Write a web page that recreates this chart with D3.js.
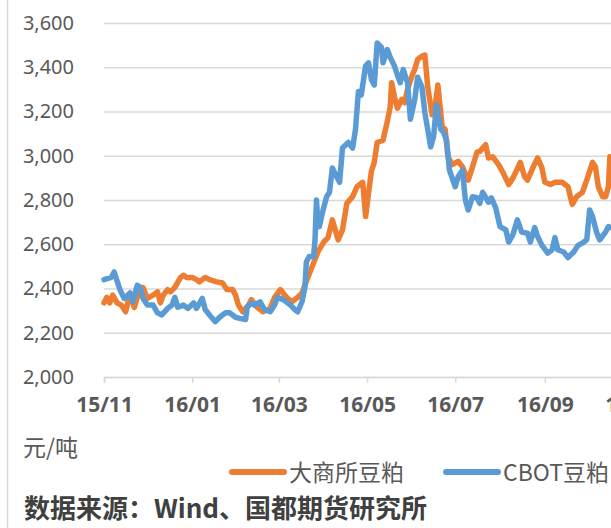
<!DOCTYPE html>
<html>
<head>
<meta charset="utf-8">
<script src="https://cdn.jsdelivr.net/npm/d3@7/dist/d3.min.js"></script>
<style>
  html, body { margin: 0; padding: 0; background: #fff; }
  svg { display: block; }
</style>
</head>
<body>
<svg id="chart" width="611" height="528"></svg>
<script>
// ---- data ----
const seriesNames = ["大商所豆粕", "CBOT豆粕"];
const seriesColors = ["#ED7D31", "#5B9BD5"];
const yTicks = [2000, 2200, 2400, 2600, 2800, 3000, 3200, 3400, 3600];
const unitLabel = "元/吨";
const sourceLabel = "数据来源：Wind、国都期货研究所";

const cnDates = ["2015-11-01","2015-11-03","2015-11-05","2015-11-07","2015-11-10","2015-11-13","2015-11-16","2015-11-18","2015-11-20","2015-11-22","2015-11-26","2015-11-28","2015-12-01","2015-12-05","2015-12-08","2015-12-10","2015-12-12","2015-12-15","2015-12-17","2015-12-20","2015-12-24","2015-12-26","2015-12-28","2016-01-01","2016-01-04","2016-01-06","2016-01-10","2016-01-13","2016-01-18","2016-01-22","2016-01-25","2016-01-29","2016-01-31","2016-02-02","2016-02-05","2016-02-09","2016-02-11","2016-02-15","2016-02-19","2016-02-24","2016-02-27","2016-03-02","2016-03-07","2016-03-10","2016-03-14","2016-03-17","2016-03-21","2016-03-25","2016-03-28","2016-04-01","2016-04-04","2016-04-07","2016-04-11","2016-04-14","2016-04-17","2016-04-21","2016-04-24","2016-04-28","2016-04-30","2016-05-02","2016-05-04","2016-05-06","2016-05-08","2016-05-12","2016-05-15","2016-05-17","2016-05-18","2016-05-20","2016-05-22","2016-05-25","2016-05-27","2016-05-29","2016-06-01","2016-06-03","2016-06-05","2016-06-08","2016-06-10","2016-06-12","2016-06-15","2016-06-17","2016-06-19","2016-06-22","2016-06-24","2016-06-26","2016-06-29","2016-07-03","2016-07-06","2016-07-10","2016-07-13","2016-07-16","2016-07-18","2016-07-22","2016-07-24","2016-07-27","2016-07-31","2016-08-03","2016-08-07","2016-08-10","2016-08-15","2016-08-18","2016-08-20","2016-08-24","2016-08-27","2016-08-30","2016-09-01","2016-09-05","2016-09-08","2016-09-13","2016-09-17","2016-09-20","2016-09-23","2016-09-27","2016-09-30","2016-10-04","2016-10-06","2016-10-08","2016-10-11","2016-10-13","2016-10-15","2016-10-16"];
const cnValues = [2335,2360,2335,2370,2335,2325,2295,2350,2355,2315,2405,2405,2355,2370,2385,2335,2370,2395,2385,2405,2450,2460,2450,2450,2440,2430,2450,2440,2430,2425,2395,2395,2370,2325,2295,2325,2350,2315,2295,2310,2360,2395,2355,2340,2360,2380,2450,2515,2565,2610,2630,2710,2620,2665,2785,2815,2860,2880,2725,2830,2930,2970,3060,3070,3155,3220,3330,3265,3215,3255,3240,3300,3360,3390,3435,3450,3455,3310,3185,3220,3320,3130,3120,2995,2960,2975,2950,2890,2950,3015,3020,3050,2990,2995,2960,2925,2870,2900,2970,2905,2890,2950,2990,2945,2880,2870,2880,2880,2860,2780,2815,2835,2890,2970,2950,2860,2815,2815,2860,2995];

const usDates = ["2015-11-01","2015-11-06","2015-11-08","2015-11-12","2015-11-15","2015-11-19","2015-11-21","2015-11-24","2015-11-26","2015-11-28","2015-12-01","2015-12-05","2015-12-08","2015-12-11","2015-12-15","2015-12-18","2015-12-20","2015-12-22","2015-12-26","2015-12-29","2016-01-02","2016-01-04","2016-01-08","2016-01-10","2016-01-13","2016-01-17","2016-01-20","2016-01-24","2016-01-27","2016-01-31","2016-02-03","2016-02-07","2016-02-08","2016-02-11","2016-02-13","2016-02-17","2016-02-20","2016-02-24","2016-02-27","2016-02-29","2016-03-04","2016-03-07","2016-03-09","2016-03-12","2016-03-14","2016-03-17","2016-03-19","2016-03-20","2016-03-22","2016-03-25","2016-03-26","2016-03-27","2016-03-28","2016-03-29","2016-03-31","2016-04-03","2016-04-05","2016-04-07","2016-04-10","2016-04-12","2016-04-14","2016-04-18","2016-04-21","2016-04-23","2016-04-25","2016-04-27","2016-04-30","2016-05-02","2016-05-04","2016-05-06","2016-05-08","2016-05-11","2016-05-12","2016-05-15","2016-05-17","2016-05-20","2016-05-22","2016-05-24","2016-05-26","2016-05-29","2016-05-31","2016-06-03","2016-06-05","2016-06-08","2016-06-10","2016-06-14","2016-06-16","2016-06-18","2016-06-21","2016-06-23","2016-06-25","2016-06-27","2016-07-01","2016-07-03","2016-07-06","2016-07-08","2016-07-10","2016-07-13","2016-07-16","2016-07-18","2016-07-20","2016-07-24","2016-07-26","2016-07-29","2016-08-01","2016-08-05","2016-08-07","2016-08-10","2016-08-13","2016-08-16","2016-08-20","2016-08-22","2016-08-25","2016-08-27","2016-08-30","2016-09-03","2016-09-06","2016-09-08","2016-09-10","2016-09-14","2016-09-17","2016-09-21","2016-09-24","2016-09-28","2016-09-30","2016-10-02","2016-10-04","2016-10-07","2016-10-09","2016-10-13","2016-10-15","2016-10-16"];
const usValues = [2440,2450,2475,2395,2355,2380,2340,2415,2405,2355,2325,2325,2290,2280,2310,2325,2360,2315,2325,2310,2335,2310,2355,2305,2280,2250,2270,2290,2290,2270,2265,2260,2315,2335,2325,2340,2305,2295,2325,2360,2350,2335,2325,2305,2295,2340,2405,2520,2545,2545,2620,2800,2695,2680,2740,2815,2835,2945,2905,2880,3035,3060,3035,3120,3290,3275,3405,3420,3345,3320,3510,3490,3420,3480,3445,3405,3365,3330,3390,3330,3165,3255,3355,3310,3195,3040,3085,3230,3120,3105,3070,2935,2860,2905,2935,2800,2755,2815,2810,2785,2835,2790,2810,2765,2680,2665,2610,2645,2710,2655,2650,2610,2675,2635,2595,2560,2575,2630,2575,2565,2540,2565,2595,2610,2620,2755,2725,2650,2620,2655,2680,2675];

// ---- chart ----
const W = 611, H = 528;
const svg = d3.select("#chart");
const parse = d3.timeParse("%Y-%m-%d");

const x = d3.scaleTime()
  .domain([parse("2015-11-01"), parse("2016-11-01")])
  .range([104, 633]);
const y = d3.scaleLinear().domain([2000, 3600]).range([377, 23]);

// left frame line
svg.append("line").attr("x1", 7.5).attr("x2", 7.5).attr("y1", 0).attr("y2", H)
  .attr("stroke", "#d9d9d9").attr("stroke-width", 1.5);

// gridlines + y labels
const yAxis = d3.axisLeft(y).tickValues(yTicks).tickSize(0).tickFormat(d3.format(","));
const gy = svg.append("g").attr("transform", "translate(104,0)").call(yAxis);
gy.select(".domain").remove();
gy.selectAll(".tick text")
  .attr("x", -30)
  .attr("font-family", "'Noto Sans', 'DejaVu Sans', sans-serif")
  .attr("font-size", 20).attr("fill", "#595959");
gy.selectAll(".tick").append("line")
  .attr("x1", 0).attr("x2", W - 104)
  .attr("stroke", "#d9d9d9").attr("stroke-width", 1.5);

// x axis
const xAxis = d3.axisBottom(x)
  .ticks(d3.timeMonth.every(2))
  .tickSize(6).tickPadding(14)
  .tickFormat(d3.timeFormat("%y/%m"));
const gx = svg.append("g").attr("transform", "translate(0,377)").call(xAxis);
gx.select(".domain").attr("stroke", "#d9d9d9").attr("stroke-width", 1.5);
gx.selectAll(".tick line").attr("stroke", "#d9d9d9").attr("stroke-width", 1.5);
gx.selectAll(".tick text")
  .attr("font-family", "'Noto Sans', 'DejaVu Sans', sans-serif")
  .attr("font-weight", "bold").attr("font-size", 21).attr("fill", "#595959");

// lines
const line = d3.line().x(d => x(d[0])).y(d => y(d[1]));
const cnData = cnDates.map((d, i) => [parse(d), cnValues[i]]);
const usData = usDates.map((d, i) => [parse(d), usValues[i]]);
[cnData, usData].forEach((data, i) => {
  svg.append("path").datum(data)
    .attr("d", line)
    .attr("fill", "none")
    .attr("stroke", seriesColors[i])
    .attr("stroke-width", 5.5)
    .attr("stroke-linejoin", "round")
    .attr("stroke-linecap", "round");
});

// unit label
svg.append("text").attr("x", 23).attr("y", 456)
  .attr("font-family", "'Noto Sans CJK SC', sans-serif")
  .attr("font-size", 23).attr("fill", "#595959").text(unitLabel);

// legend
const legendItems = [{x: 232, tx: 289}, {x: 446, tx: 503}];
legendItems.forEach((it, i) => {
  svg.append("line").attr("x1", it.x).attr("x2", it.x + 52)
    .attr("y1", 472).attr("y2", 472)
    .attr("stroke", seriesColors[i]).attr("stroke-width", 6)
    .attr("stroke-linecap", "round");
  svg.append("text").attr("x", it.tx).attr("y", 481)
    .attr("font-family", "'Noto Sans CJK SC', sans-serif")
    .attr("font-size", 23).attr("fill", "#595959").text(seriesNames[i]);
});

// source
svg.append("text").attr("x", 24).attr("y", 518)
  .attr("font-family", "'Noto Sans CJK SC', sans-serif")
  .attr("font-weight", "bold")
  .attr("font-size", 26).attr("fill", "#404040").text(sourceLabel);
</script>
</body>
</html>
